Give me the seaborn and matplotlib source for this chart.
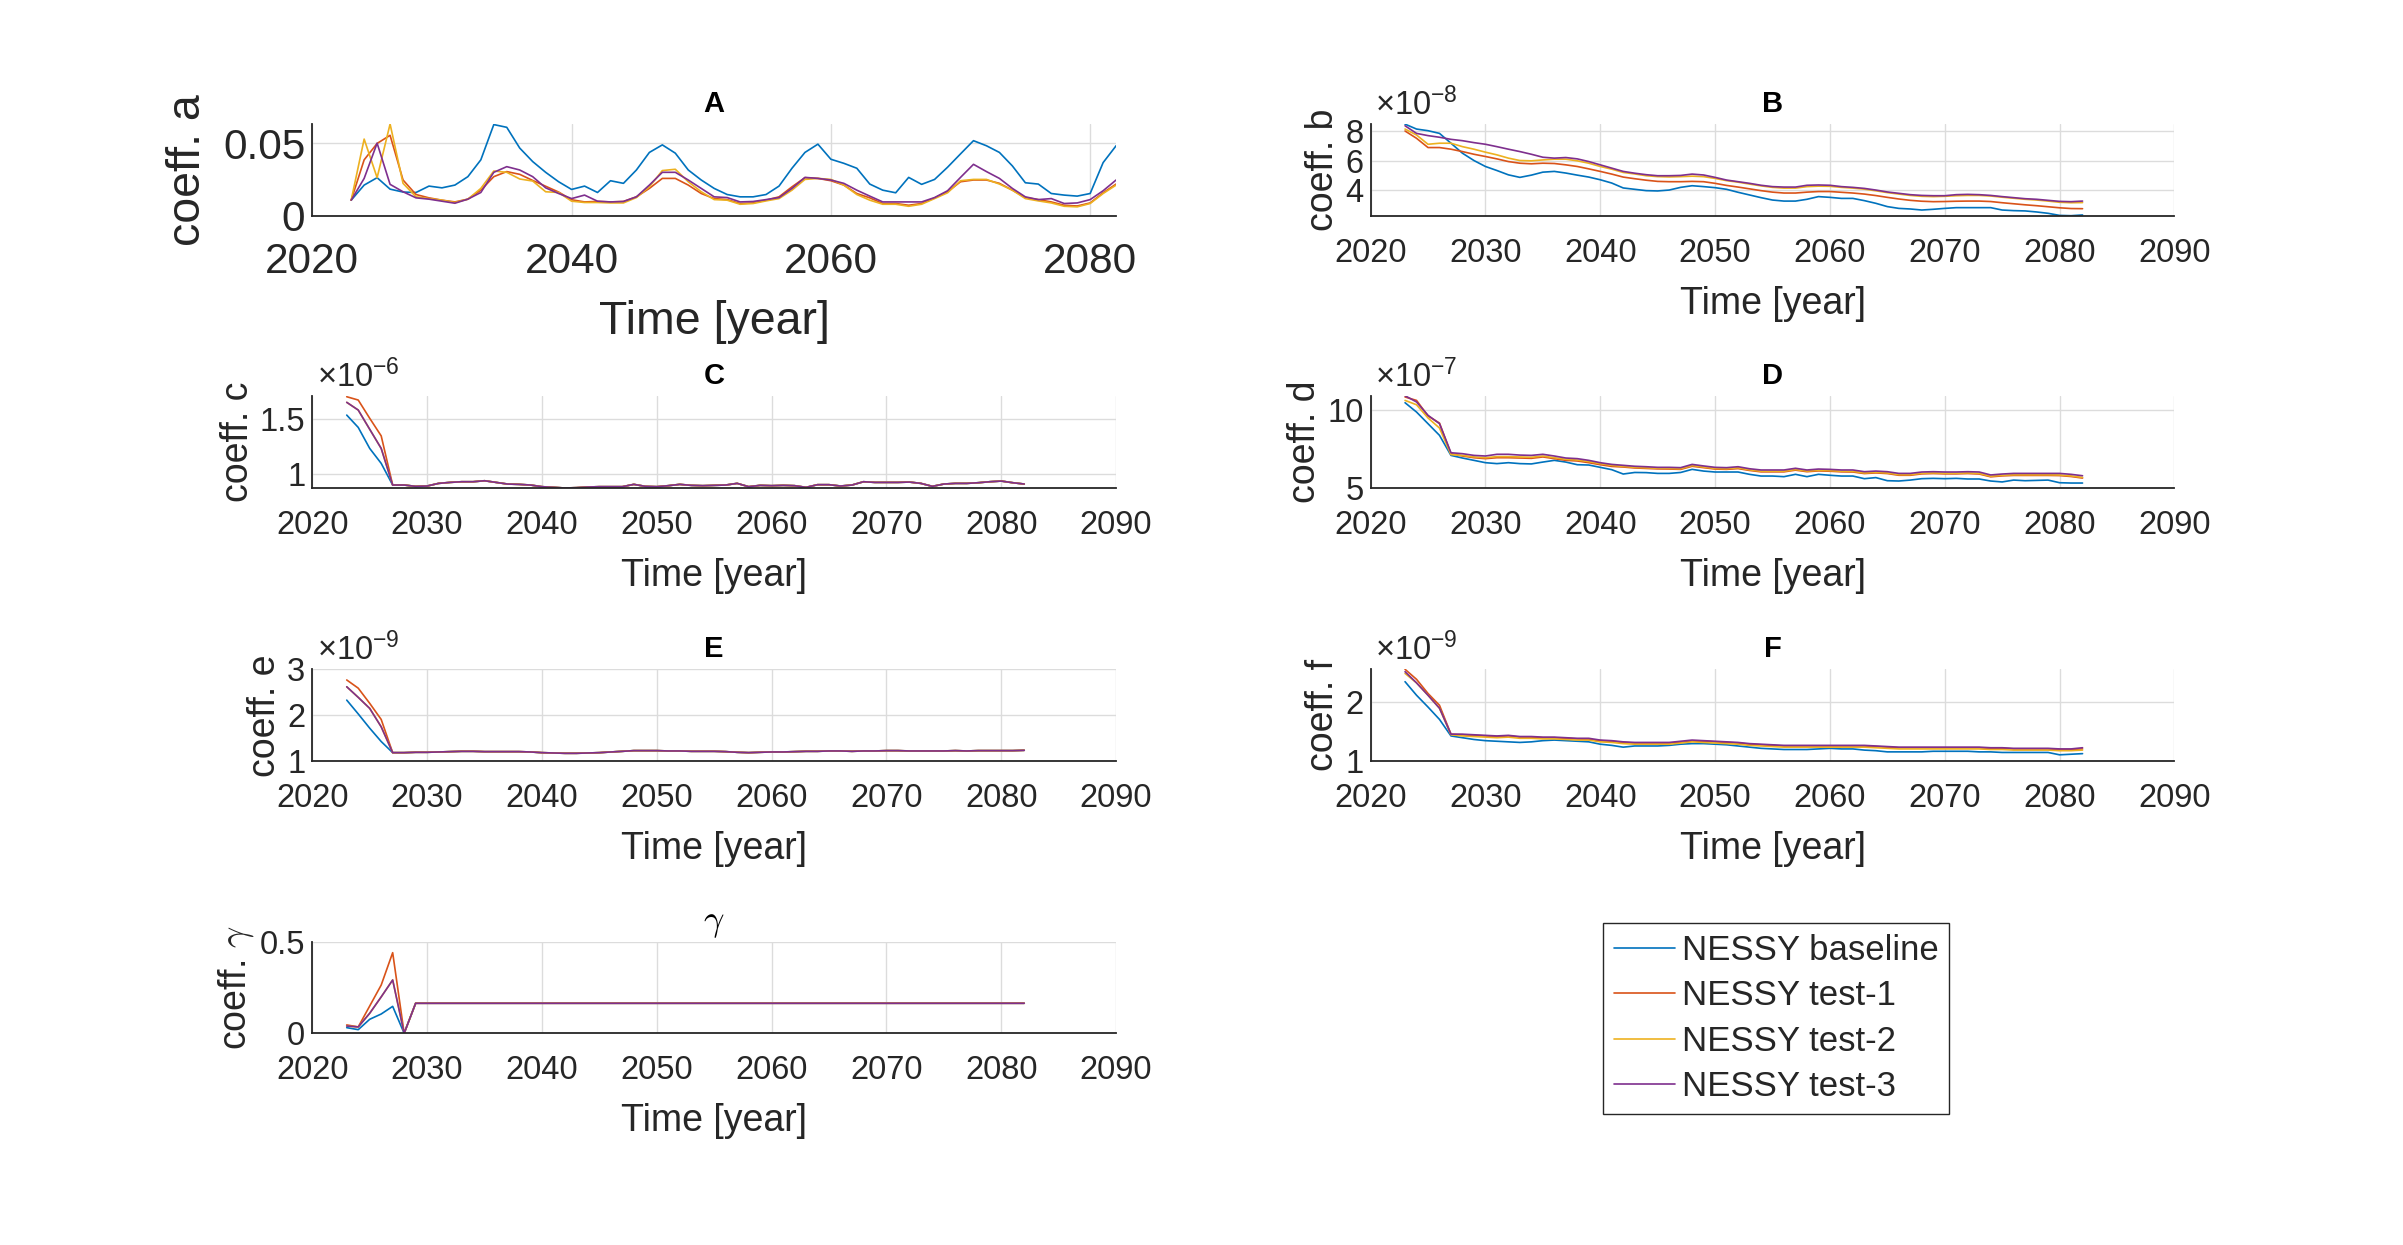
import numpy as np
import pandas as pd
import matplotlib
matplotlib.use("Agg")
import matplotlib.pyplot as plt
from matplotlib.ticker import FixedLocator, FuncFormatter
import seaborn as sns

# ---------------- data ----------------
years = np.arange(2023, 2083)
runs = ["NESSY baseline", "NESSY test-1", "NESSY test-2", "NESSY test-3"]
colors = ["#0072BD", "#D95319", "#EDB120", "#7E2F8E"]

# coeff. a
a_base = [0.0109, 0.0213, 0.0264, 0.0185, 0.0165, 0.0162, 0.0206, 0.0194, 0.0213, 0.0271,
          0.0387, 0.0630, 0.0611, 0.0468, 0.0375, 0.0301, 0.0236, 0.0183, 0.0206, 0.0162,
          0.0243, 0.0225, 0.0317, 0.0438, 0.0490, 0.0433, 0.0317, 0.0248, 0.0190, 0.0148,
          0.0132, 0.0132, 0.0148, 0.0206, 0.0329, 0.0438, 0.0495, 0.0391, 0.0363, 0.0329,
          0.0220, 0.0178, 0.0160, 0.0266, 0.0218, 0.0252, 0.0336, 0.0428, 0.0519, 0.0484,
          0.0438, 0.0345, 0.0229, 0.0220, 0.0155, 0.0144, 0.0137, 0.0155, 0.0368, 0.0484]
a_test1 = [0.0109, 0.0387, 0.0500, 0.0556, 0.0248, 0.0148, 0.0125, 0.0109, 0.0097, 0.0116,
           0.0178, 0.0271, 0.0306, 0.0287, 0.0245, 0.0205, 0.0165, 0.0112, 0.0097, 0.0100,
           0.0097, 0.0100, 0.0132, 0.0190, 0.0259, 0.0259, 0.0213, 0.0155, 0.0120, 0.0113,
           0.0086, 0.0090, 0.0109, 0.0132, 0.0201, 0.0264, 0.0259, 0.0243, 0.0213, 0.0155,
           0.0125, 0.0086, 0.0086, 0.0074, 0.0086, 0.0125, 0.0167, 0.0236, 0.0248, 0.0248,
           0.0225, 0.0178, 0.0127, 0.0113, 0.0097, 0.0074, 0.0069, 0.0090, 0.0160, 0.0220]
a_test2 = [0.0109, 0.0530, 0.0264, 0.0634, 0.0225, 0.0132, 0.0120, 0.0109, 0.0093, 0.0116,
           0.0190, 0.0310, 0.0301, 0.0255, 0.0241, 0.0167, 0.0162, 0.0102, 0.0093, 0.0093,
           0.0090, 0.0090, 0.0127, 0.0201, 0.0313, 0.0322, 0.0236, 0.0167, 0.0113, 0.0109,
           0.0081, 0.0086, 0.0104, 0.0120, 0.0178, 0.0252, 0.0259, 0.0252, 0.0213, 0.0148,
           0.0109, 0.0081, 0.0081, 0.0067, 0.0081, 0.0120, 0.0160, 0.0243, 0.0252, 0.0252,
           0.0220, 0.0178, 0.0120, 0.0104, 0.0090, 0.0067, 0.0063, 0.0086, 0.0155, 0.0213]
a_test3 = [0.0109, 0.0259, 0.0502, 0.0218, 0.0167, 0.0125, 0.0116, 0.0102, 0.0088, 0.0116,
           0.0162, 0.0301, 0.0340, 0.0317, 0.0271, 0.0194, 0.0155, 0.0120, 0.0144, 0.0102,
           0.0097, 0.0100, 0.0132, 0.0213, 0.0301, 0.0301, 0.0248, 0.0190, 0.0132, 0.0127,
           0.0097, 0.0100, 0.0113, 0.0127, 0.0190, 0.0266, 0.0259, 0.0248, 0.0225, 0.0178,
           0.0137, 0.0097, 0.0097, 0.0097, 0.0097, 0.0127, 0.0174, 0.0266, 0.0356, 0.0306,
           0.0259, 0.0190, 0.0132, 0.0113, 0.0120, 0.0086, 0.0090, 0.0113, 0.0174, 0.0248]

# coeff. b  [x 1e-8]
b_base = [8.44, 8.11, 8.00, 7.82, 7.16, 6.49, 6.00, 5.60, 5.33, 5.04,
          4.87, 5.02, 5.22, 5.27, 5.16, 5.02, 4.89, 4.71, 4.49, 4.16,
          4.07, 3.98, 3.96, 4.02, 4.20, 4.31, 4.25, 4.18, 4.07, 3.87,
          3.69, 3.51, 3.35, 3.28, 3.28, 3.40, 3.58, 3.53, 3.46, 3.46,
          3.31, 3.13, 2.91, 2.79, 2.75, 2.68, 2.73, 2.79, 2.84, 2.84,
          2.84, 2.84, 2.68, 2.64, 2.62, 2.55, 2.46, 2.32, 2.30, 2.35]
b_test1 = [7.98, 7.49, 6.87, 6.87, 6.76, 6.60, 6.42, 6.27, 6.11, 5.93,
           5.82, 5.78, 5.82, 5.80, 5.71, 5.60, 5.44, 5.27, 5.09, 4.89,
           4.78, 4.68, 4.60, 4.58, 4.58, 4.60, 4.58, 4.47, 4.33, 4.22,
           4.10, 3.98, 3.88, 3.82, 3.82, 3.88, 3.92, 3.92, 3.87, 3.82,
           3.75, 3.65, 3.53, 3.42, 3.33, 3.27, 3.24, 3.25, 3.27, 3.28,
           3.28, 3.25, 3.17, 3.10, 3.03, 2.97, 2.90, 2.83, 2.78, 2.77]
b_test2 = [8.11, 7.71, 7.09, 7.16, 7.16, 6.93, 6.76, 6.56, 6.38, 6.16,
           6.00, 5.98, 6.04, 6.09, 6.09, 5.98, 5.82, 5.60, 5.42, 5.20,
           5.10, 4.98, 4.92, 4.90, 4.92, 4.95, 4.92, 4.80, 4.65, 4.55,
           4.42, 4.30, 4.20, 4.15, 4.15, 4.25, 4.28, 4.27, 4.20, 4.15,
           4.08, 3.97, 3.85, 3.75, 3.66, 3.60, 3.58, 3.60, 3.64, 3.66,
           3.66, 3.62, 3.54, 3.47, 3.40, 3.35, 3.28, 3.20, 3.17, 3.18]
b_test3 = [8.33, 7.82, 7.67, 7.56, 7.42, 7.33, 7.20, 7.09, 6.93, 6.76,
           6.60, 6.42, 6.22, 6.16, 6.20, 6.11, 5.93, 5.71, 5.49, 5.27,
           5.15, 5.05, 4.98, 4.98, 5.00, 5.09, 5.03, 4.87, 4.69, 4.58,
           4.47, 4.34, 4.25, 4.22, 4.22, 4.34, 4.36, 4.34, 4.25, 4.20,
           4.13, 4.02, 3.89, 3.80, 3.71, 3.66, 3.64, 3.64, 3.71, 3.73,
           3.71, 3.66, 3.58, 3.51, 3.44, 3.40, 3.33, 3.26, 3.24, 3.28]

# coeff. c  [x 1e-6]; all runs coincide from 2027 on
c_tail = [0.903, 0.903, 0.891, 0.894, 0.918, 0.927, 0.933, 0.933, 0.942, 0.927,
          0.912, 0.909, 0.903, 0.888, 0.882, 0.876, 0.879, 0.885, 0.888, 0.888,
          0.888, 0.909, 0.891, 0.888, 0.897, 0.909, 0.900, 0.897, 0.900, 0.903,
          0.918, 0.888, 0.900, 0.897, 0.900, 0.897, 0.882, 0.906, 0.906, 0.894,
          0.903, 0.933, 0.927, 0.927, 0.927, 0.930, 0.918, 0.891, 0.912, 0.918,
          0.918, 0.924, 0.933, 0.939, 0.924, 0.912]
c_base = [1.539, 1.427, 1.236, 1.100] + c_tail
c_test1 = [1.706, 1.676, 1.510, 1.350] + c_tail
c_test2 = [1.655, 1.585, 1.410, 1.236] + c_tail
c_test3 = [1.655, 1.585, 1.410, 1.236] + c_tail

# coeff. d  [x 1e-7]
d_base = [10.49, 9.89, 9.14, 8.39, 7.10, 6.93, 6.78, 6.63, 6.57, 6.63,
          6.57, 6.55, 6.67, 6.78, 6.67, 6.50, 6.48, 6.33, 6.18, 5.90,
          6.00, 5.99, 5.94, 5.94, 6.00, 6.20, 6.09, 6.03, 6.03, 6.03,
          5.88, 5.77, 5.77, 5.73, 5.88, 5.73, 5.88, 5.82, 5.77, 5.77,
          5.60, 5.67, 5.47, 5.45, 5.51, 5.60, 5.62, 5.60, 5.62, 5.58,
          5.58, 5.45, 5.39, 5.51, 5.47, 5.49, 5.51, 5.34, 5.32, 5.32]
d_test1 = [10.86, 10.64, 9.64, 9.18, 7.21, 7.06, 6.95, 6.89, 6.95, 6.95,
           6.93, 6.91, 7.00, 6.89, 6.78, 6.74, 6.63, 6.50, 6.39, 6.35,
           6.29, 6.26, 6.23, 6.22, 6.20, 6.40, 6.31, 6.22, 6.20, 6.25,
           6.13, 6.04, 6.04, 6.04, 6.15, 6.05, 6.10, 6.08, 6.04, 6.03,
           5.93, 5.97, 5.93, 5.82, 5.82, 5.91, 5.93, 5.91, 5.91, 5.93,
           5.90, 5.72, 5.78, 5.81, 5.81, 5.81, 5.81, 5.80, 5.74, 5.64]
d_test2 = [10.64, 10.36, 9.51, 8.86, 7.15, 7.10, 7.00, 6.95, 7.02, 7.02,
           7.00, 6.98, 7.06, 6.95, 6.85, 6.80, 6.70, 6.57, 6.46, 6.39,
           6.33, 6.30, 6.27, 6.26, 6.24, 6.45, 6.35, 6.26, 6.24, 6.30,
           6.17, 6.08, 6.08, 6.08, 6.19, 6.09, 6.14, 6.12, 6.08, 6.07,
           5.97, 6.01, 5.97, 5.86, 5.86, 5.95, 5.97, 5.95, 5.95, 5.97,
           5.94, 5.76, 5.82, 5.85, 5.85, 5.85, 5.85, 5.84, 5.78, 5.68]
d_test3 = [10.94, 10.54, 9.68, 9.14, 7.27, 7.21, 7.10, 7.06, 7.17, 7.17,
           7.12, 7.10, 7.17, 7.06, 6.93, 6.89, 6.78, 6.63, 6.52, 6.46,
           6.40, 6.37, 6.33, 6.33, 6.31, 6.52, 6.42, 6.33, 6.31, 6.37,
           6.24, 6.16, 6.16, 6.16, 6.27, 6.16, 6.22, 6.20, 6.16, 6.16,
           6.05, 6.09, 6.05, 5.94, 5.94, 6.03, 6.05, 6.03, 6.03, 6.05,
           6.03, 5.84, 5.90, 5.94, 5.94, 5.94, 5.94, 5.94, 5.88, 5.79]

# coeff. e  [x 1e-9]; all runs coincide from 2027 on
e_tail = [1.188, 1.188, 1.196, 1.196, 1.203, 1.210, 1.217, 1.217, 1.210, 1.210,
          1.210, 1.210, 1.203, 1.188, 1.181, 1.174, 1.174, 1.181, 1.188, 1.203,
          1.217, 1.232, 1.232, 1.232, 1.225, 1.225, 1.217, 1.217, 1.217, 1.210,
          1.196, 1.188, 1.196, 1.203, 1.203, 1.210, 1.217, 1.217, 1.225, 1.225,
          1.217, 1.225, 1.225, 1.232, 1.232, 1.225, 1.225, 1.225, 1.225, 1.232,
          1.225, 1.232, 1.232, 1.232, 1.232, 1.239]
e_base = [2.33, 2.03, 1.72, 1.43] + e_tail
e_test1 = [2.768, 2.59, 2.26, 1.91] + e_tail
e_test2 = [2.62, 2.39, 2.15, 1.75] + e_tail
e_test3 = [2.62, 2.39, 2.15, 1.75] + e_tail

# coeff. f  [x 1e-9]
f_base = [2.35, 2.12, 1.92, 1.71, 1.43, 1.40, 1.37, 1.35, 1.34, 1.33,
          1.32, 1.33, 1.35, 1.36, 1.35, 1.34, 1.33, 1.29, 1.27, 1.24,
          1.26, 1.26, 1.26, 1.27, 1.29, 1.30, 1.30, 1.29, 1.28, 1.26,
          1.24, 1.22, 1.21, 1.20, 1.20, 1.20, 1.21, 1.22, 1.21, 1.21,
          1.19, 1.18, 1.16, 1.16, 1.16, 1.16, 1.17, 1.17, 1.17, 1.17,
          1.16, 1.16, 1.15, 1.15, 1.15, 1.15, 1.15, 1.11, 1.12, 1.13]
f_test1 = [2.56, 2.39, 2.15, 1.95, 1.46, 1.45, 1.44, 1.43, 1.42, 1.43,
           1.41, 1.41, 1.40, 1.40, 1.39, 1.38, 1.37, 1.35, 1.34, 1.32,
           1.31, 1.31, 1.31, 1.31, 1.32, 1.34, 1.34, 1.33, 1.32, 1.31,
           1.29, 1.28, 1.27, 1.26, 1.26, 1.26, 1.26, 1.26, 1.26, 1.26,
           1.26, 1.25, 1.24, 1.23, 1.23, 1.23, 1.23, 1.23, 1.23, 1.23,
           1.23, 1.22, 1.22, 1.21, 1.21, 1.21, 1.21, 1.20, 1.20, 1.21]
f_test2 = [2.49, 2.33, 2.12, 1.90, 1.45, 1.43, 1.42, 1.41, 1.40, 1.41,
           1.39, 1.39, 1.38, 1.38, 1.37, 1.36, 1.36, 1.33, 1.32, 1.30,
           1.29, 1.29, 1.29, 1.29, 1.31, 1.33, 1.32, 1.31, 1.30, 1.29,
           1.27, 1.26, 1.25, 1.24, 1.24, 1.24, 1.24, 1.24, 1.24, 1.24,
           1.24, 1.23, 1.22, 1.21, 1.21, 1.21, 1.21, 1.21, 1.21, 1.21,
           1.21, 1.20, 1.20, 1.19, 1.19, 1.19, 1.19, 1.18, 1.18, 1.19]
f_test3 = [2.52, 2.33, 2.12, 1.90, 1.46, 1.46, 1.45, 1.44, 1.43, 1.44,
           1.42, 1.42, 1.41, 1.41, 1.40, 1.39, 1.39, 1.36, 1.35, 1.33,
           1.32, 1.32, 1.32, 1.32, 1.34, 1.36, 1.35, 1.34, 1.33, 1.32,
           1.30, 1.29, 1.28, 1.27, 1.27, 1.27, 1.27, 1.27, 1.27, 1.27,
           1.27, 1.26, 1.25, 1.24, 1.24, 1.24, 1.24, 1.24, 1.24, 1.24,
           1.24, 1.23, 1.23, 1.22, 1.22, 1.22, 1.22, 1.21, 1.21, 1.23]

# coeff. gamma; constant from 2029 on
g_tail = [0.165] * 54
g_base = [0.031, 0.020, 0.077, 0.106, 0.148, 0.0] + g_tail
g_test1 = [0.046, 0.035, 0.150, 0.265, 0.443, 0.0] + g_tail
g_test2 = [0.040, 0.035, 0.110, 0.200, 0.293, 0.0] + g_tail
g_test3 = [0.040, 0.035, 0.110, 0.200, 0.293, 0.0] + g_tail

# ---------------- style ----------------
sns.set_style("white")
plt.rcParams["font.family"] = ["Liberation Sans", "DejaVu Sans"]
plt.rcParams["mathtext.fontset"] = "custom"
plt.rcParams["mathtext.rm"] = "Liberation Sans"
plt.rcParams["mathtext.it"] = "Liberation Sans:italic"
plt.rcParams["mathtext.bf"] = "Liberation Sans:bold"

DARK = "#262626"
GRID = "#dcdcdc"

fig = plt.figure(figsize=(24.03, 12.45), dpi=100)

LEFT_X, RIGHT_X = 0.12996, 0.57037
WIDTH = 0.3345
ROWS = [(0.82651, 0.0739), (0.60803, 0.0741), (0.38851, 0.0739), (0.17004, 0.0731)]
dec_ticks = [2020, 2030, 2040, 2050, 2060, 2070, 2080, 2090]

panels = [
    dict(series=[a_base, a_test1, a_test2, a_test3], col=LEFT_X, row=0, title="A",
         ylabel="coeff. a", expo=None, yticks=[0, 0.05], ylim=(0, 0.0634),
         xticks=[2020, 2040, 2060, 2080], xlim=(2020, 2082), big=True),
    dict(series=[b_base, b_test1, b_test2, b_test3], col=RIGHT_X, row=0, title="B",
         ylabel="coeff. b", expo=-8, yticks=[4, 6, 8], ylim=(2.28, 8.45),
         xticks=dec_ticks, xlim=(2020, 2090), big=False),
    dict(series=[c_base, c_test1, c_test2, c_test3], col=LEFT_X, row=1, title="C",
         ylabel="coeff. c", expo=-6, yticks=[1, 1.5], ylim=(0.876, 1.715),
         xticks=dec_ticks, xlim=(2020, 2090), big=False),
    dict(series=[d_base, d_test1, d_test2, d_test3], col=RIGHT_X, row=1, title="D",
         ylabel="coeff. d", expo=-7, yticks=[5, 10], ylim=(5, 10.94),
         xticks=dec_ticks, xlim=(2020, 2090), big=False),
    dict(series=[e_base, e_test1, e_test2, e_test3], col=LEFT_X, row=2, title="E",
         ylabel="coeff. e", expo=-9, yticks=[1, 2, 3], ylim=(1, 3),
         xticks=dec_ticks, xlim=(2020, 2090), big=False),
    dict(series=[f_base, f_test1, f_test2, f_test3], col=RIGHT_X, row=2, title="F",
         ylabel="coeff. f", expo=-9, yticks=[1, 2], ylim=(1, 2.56),
         xticks=dec_ticks, xlim=(2020, 2090), big=False),
    dict(series=[g_base, g_test1, g_test2, g_test3], col=LEFT_X, row=3, title=r"$\gamma$",
         ylabel=r"coeff. $\gamma$", expo=None, yticks=[0, 0.5], ylim=(0, 0.5),
         xticks=dec_ticks, xlim=(2020, 2090), big=False),
]

legend_lines = None
for p in panels:
    bottom, height = ROWS[p["row"]]
    ax = fig.add_axes([p["col"], bottom, WIDTH, height])
    if p["big"]:
        tick_fs, label_fs, xpad, xlpad, ylpad = 30.5, 33.5, 19, 13, 9
    else:
        tick_fs, label_fs, xpad, xlpad, ylpad = 23.5, 27, 15.5, 12.5, 3

    df = pd.DataFrame({
        "year": np.tile(years, len(runs)),
        "value": np.concatenate([np.asarray(s, dtype=float) for s in p["series"]]),
        "run": np.repeat(runs, len(years)),
    })
    sns.lineplot(data=df, x="year", y="value", hue="run", hue_order=runs,
                 palette=colors, linewidth=1.2, legend=False, ax=ax)
    if legend_lines is None:
        legend_lines = ax.get_lines()[:4]

    ax.set_xlim(*p["xlim"])
    ax.set_ylim(*p["ylim"])
    ax.xaxis.set_major_locator(FixedLocator(p["xticks"]))
    ax.yaxis.set_major_locator(FixedLocator(p["yticks"]))
    ax.yaxis.set_major_formatter(FuncFormatter(lambda v, pos: f"{round(v, 6):g}"))

    for side in ["top", "right"]:
        ax.spines[side].set_visible(False)
    for side in ["left", "bottom"]:
        ax.spines[side].set_color(DARK)
        ax.spines[side].set_linewidth(1.3)

    ax.grid(True, color=GRID, linewidth=1.0)
    ax.set_axisbelow(True)
    ax.tick_params(axis="both", direction="in", length=5.5, width=1.0,
                   color=DARK, labelcolor=DARK, labelsize=tick_fs)
    ax.tick_params(axis="x", pad=xpad)
    ax.tick_params(axis="y", pad=5)

    ax.set_xlabel("Time [year]", fontsize=label_fs, color=DARK, labelpad=xlpad)
    if "gamma" in p["ylabel"]:
        ax.set_ylabel(p["ylabel"], fontsize=label_fs, color=DARK, labelpad=ylpad,
                      math_fontfamily="cm")
        ax.set_title(p["title"], fontsize=26, color="black", pad=8.6,
                     math_fontfamily="cm")
    else:
        ax.set_ylabel(p["ylabel"], fontsize=label_fs, color=DARK, labelpad=ylpad)
        ax.set_title(p["title"], fontsize=21, fontweight="bold", color="black", pad=8.6)

    if p["expo"] is not None:
        ax.annotate(r"$\times10^{%d}$" % p["expo"], xy=(0, 1), xycoords="axes fraction",
                    xytext=(3.5, 6.5), textcoords="offset points", ha="left",
                    va="baseline", fontsize=tick_fs, color=DARK)

fig.legend(handles=legend_lines, labels=runs, loc="upper left",
           bbox_to_anchor=(0.66721, 0.25839), borderaxespad=0, fontsize=25,
           frameon=True, fancybox=False, shadow=False, framealpha=1,
           edgecolor=DARK, handlelength=1.76, handletextpad=0.21,
           labelspacing=0.36, borderpad=0.3)

fig.savefig("out.png", dpi=100)
